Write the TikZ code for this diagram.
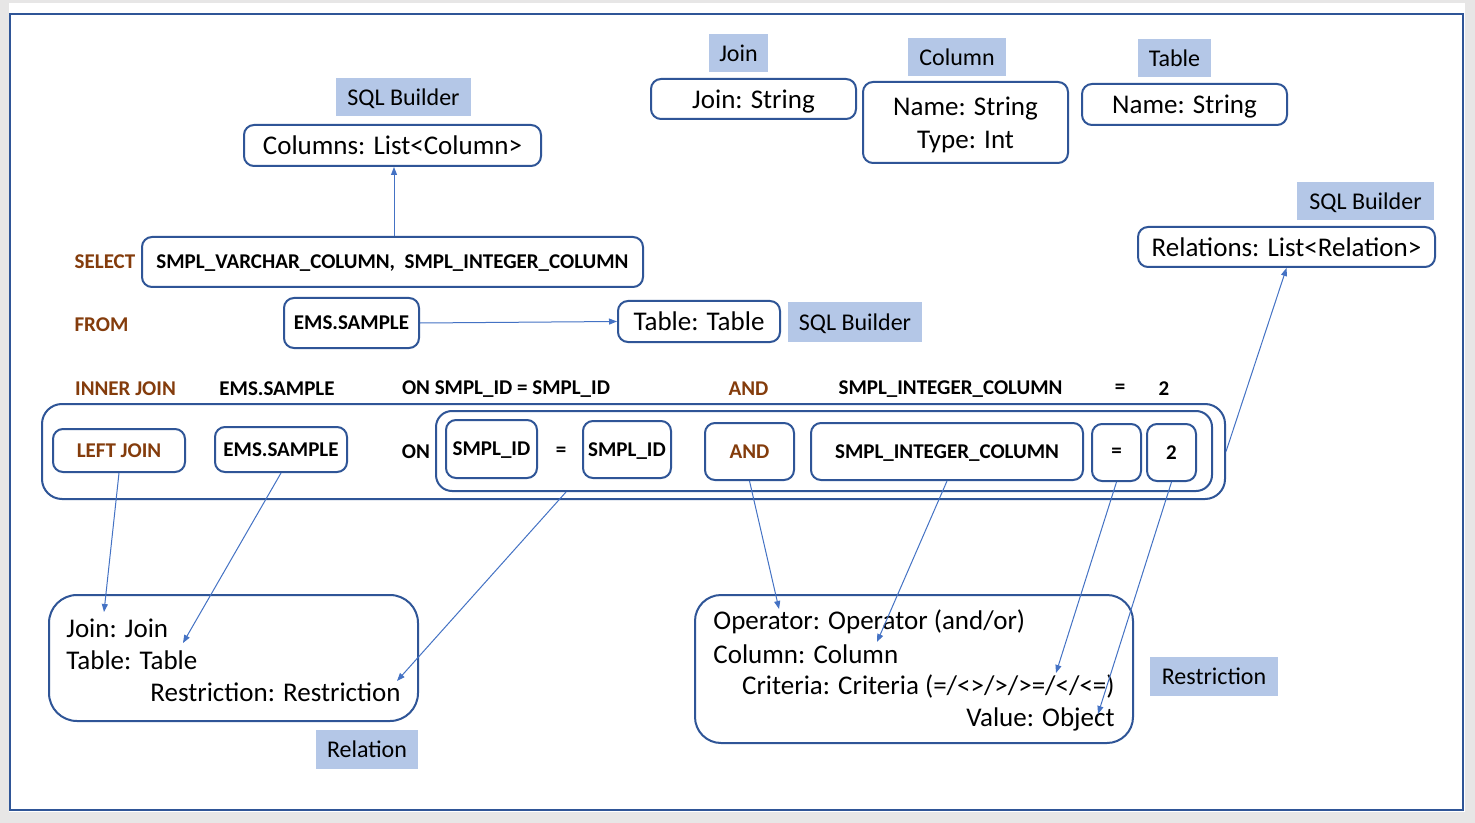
\documentclass[tikz,border=0pt]{standalone}
\usepackage{fontspec}
\setmainfont{Carlito}
\usetikzlibrary{arrows.meta}

\definecolor{frameblue}{HTML}{2F5597}
\definecolor{arrowblue}{HTML}{4472C4}
\definecolor{tagblue}{HTML}{B4C7E7}
\definecolor{kwbrown}{HTML}{843C0C}
\definecolor{pagegray}{HTML}{E7E6E6}

\tikzset{
  wh/.style 2 args={minimum width=#1, minimum height=#2},
  field/.style={draw=frameblue, line width=1pt, rounded corners=5pt, inner sep=0pt,
    text depth=0pt, font=\fontsize{13.5}{16.5}\selectfont},
  tag/.style={fill=tagblue, inner sep=0pt, text depth=0pt, font=\fontsize{12}{14}\selectfont},
  sql/.style={inner sep=0pt, font=\bfseries\fontsize{10.5}{12}\selectfont},
  kw/.style={sql, text=kwbrown},
  sqlbox/.style={sql, draw=frameblue, line width=1pt, rounded corners=5pt, text depth=0pt},
  entry/.style={inner sep=0pt, font=\fontsize{13.5}{16.5}\selectfont},
  link/.style={-{Triangle[length=4pt,width=3pt]}, draw=arrowblue, line width=0.5pt},
}

\begin{document}
\begin{tikzpicture}[x=0.5pt, y=-0.5pt]
    \useasboundingbox (0,0) rectangle (1475,823);
    % --- page and frame ---
    \fill[pagegray] (0,0) rectangle (1475,823);
    \fill[white] (9,3) rectangle (1465,812);
    \draw[frameblue, line width=1pt] (10,14) rectangle (1463,810);

    % --- model classes ---
    \node[tag, wh={67.5pt}{19pt}] (buildA) at (403.5,97) {SQL Builder};
    \node[field, wh={148.5pt}{20.5pt}] (columns) at (392.5,145.5) {Columns: List<Column>};

    \node[tag, wh={29.5pt}{19pt}] (tagjoin) at (738.5,53) {Join};
    \node[field, wh={102.5pt}{20pt}] (joinfield) at (753.5,99) {Join: String};

    \node[tag, wh={49pt}{19pt}] (tagcolumn) at (957,57) {Column};
    \node[field, wh={102.5pt}{40.5pt}, align=center] (colfield) at (965.5,122.5) {Name: String\\Type: Int};

    \node[tag, wh={36.5pt}{19pt}] (tagtable) at (1174.5,58) {Table};
    \node[field, wh={102.5pt}{20.5pt}] (tablefield) at (1184.5,104.5) {Name: String};

    \node[tag, wh={68.5pt}{19pt}] (buildC) at (1365.5,201) {SQL Builder};
    \node[field, wh={148.5pt}{20pt}] (relations) at (1286.5,247) {Relations: List<Relation>};

    % --- SELECT / FROM ---
    \node[kw] (kwselect) at (105,262) {SELECT};
    \node[sqlbox, wh={250.5pt}{25pt}] (selcols) at (392.5,262) {SMPL\_VARCHAR\_COLUMN,~~SMPL\_INTEGER\_COLUMN\hspace{5pt}};

    \node[kw] (kwfrom) at (101.5,325) {FROM};
    \node[sqlbox, wh={67.5pt}{25pt}] (fromtable) at (351.5,323) {EMS.SAMPLE};
    \node[field, wh={81pt}{20.5pt}] (tablebox) at (699,321.5) {Table: Table};
    \node[tag, wh={67pt}{20pt}] (buildB) at (855,322) {SQL Builder};

    % --- join clause as text ---
    \node[kw] (kwinner) at (125.5,389) {INNER JOIN};
    \node[sql] (rowtable) at (277,389) {EMS.SAMPLE};
    \node[sql] (rowon) at (506,389) {ON SMPL\_ID = SMPL\_ID};
    \node[kw] (rowand) at (748.5,389) {AND};
    \node[sql] (rowcol) at (950.5,389) {SMPL\_INTEGER\_COLUMN};
    \node[sql] (roweq) at (1120,389) {=};
    \node[sql] (rowval) at (1164,389) {2};

    % --- join clause split in parts ---
    \node[draw=frameblue, line width=1pt, rounded corners=10pt, wh={591.5pt}{47.5pt}] (joinall) at (633.5,451.5) {};
    \node[sqlbox, text=kwbrown, wh={66pt}{21.5pt}] (leftjoin) at (119,450.5) {LEFT JOIN};
    \node[sqlbox, wh={66pt}{22.5pt}] (jointable) at (281,449.5) {EMS.SAMPLE};
    \node[sql] (kwon) at (416,452) {ON};
    \node[draw=frameblue, line width=1pt, rounded corners=8pt, wh={388pt}{40pt}] (onall) at (824,451) {};
    \node[sqlbox, wh={45.5pt}{29pt}] (idleft) at (491.5,449) {SMPL\_ID};
    \node[sql] (ideq) at (561,452) {=};
    \node[sqlbox, wh={44pt}{28.5pt}] (idright) at (627,449.5) {SMPL\_ID};
    \node[sqlbox, text=kwbrown, wh={44.5pt}{28.5pt}] (andbox) at (749.5,451.5) {AND};
    \node[sqlbox, wh={136pt}{28.5pt}] (intcol) at (947,451.5) {SMPL\_INTEGER\_COLUMN};
    \node[sqlbox, wh={24.5pt}{28.5pt}] (eqbox) at (1116.5,452.5) {=};
    \node[sqlbox, wh={24.5pt}{28.5pt}] (valbox) at (1171.5,452.5) {2};

    % --- Relation ---
    \node[draw=frameblue, line width=1pt, rounded corners=14pt, wh={184.5pt}{63pt}] (relation) at (233.5,658) {};
    \node[entry, anchor=west] (reljoin) at (66,628) {Join: Join};
    \node[entry, anchor=west] (reltable) at (66,660) {Table: Table};
    \node[entry, anchor=east] (relrestr) at (401,692) {Restriction: Restriction};
    \node[tag, wh={51pt}{19.5pt}] (tagrelation) at (367,749.5) {Relation};

    % --- Restriction ---
    \node[draw=frameblue, line width=1pt, rounded corners=13pt, wh={219pt}{74pt}] (restriction) at (914,669) {};
    \node[entry, anchor=west] (resop) at (713,622) {Operator: Operator (and/or)};
    \node[entry, anchor=west] (rescol) at (713,654) {Column: Column};
    \node[entry, anchor=east] (rescrit) at (1115,686) {Criteria: Criteria (=/<>/>/>=/</<=)};
    \node[entry, anchor=east] (resval) at (1115,719) {Value: Object};
    \node[tag, wh={64pt}{19.5pt}] (tagrestriction) at (1214,676.5) {Restriction};

    % --- connectors ---
    \coordinate (tipjoin) at (104,612);
    \coordinate (tiptable) at (183,643);
    \coordinate (tiprestr) at (397,681);
    \coordinate (tipop) at (779,609);
    \coordinate (tipcol) at (877,642);
    \coordinate (tipcrit) at (1056,673);
    \coordinate (tipval) at (1098,714);

    \draw[link] ([xshift=0.75pt]selcols.north) -- ([xshift=0.75pt]columns.south);
    \draw[link] (fromtable.east) -- (tablebox.west);
    \draw[link] (joinall.east) -- (relations.south);
    \draw[link] (leftjoin.south) -- (tipjoin);
    \draw[link] (jointable.south) -- (tiptable);
    \draw[link] ([xshift=-129pt]onall.south) -- (tiprestr);
    \draw[link] (andbox.south) -- (tipop);
    \draw[link] (intcol.south) -- (tipcol);
    \draw[link] (eqbox.south) -- (tipcrit);
    \draw[link] (valbox.south) -- (tipval);
\end{tikzpicture}
\end{document}
